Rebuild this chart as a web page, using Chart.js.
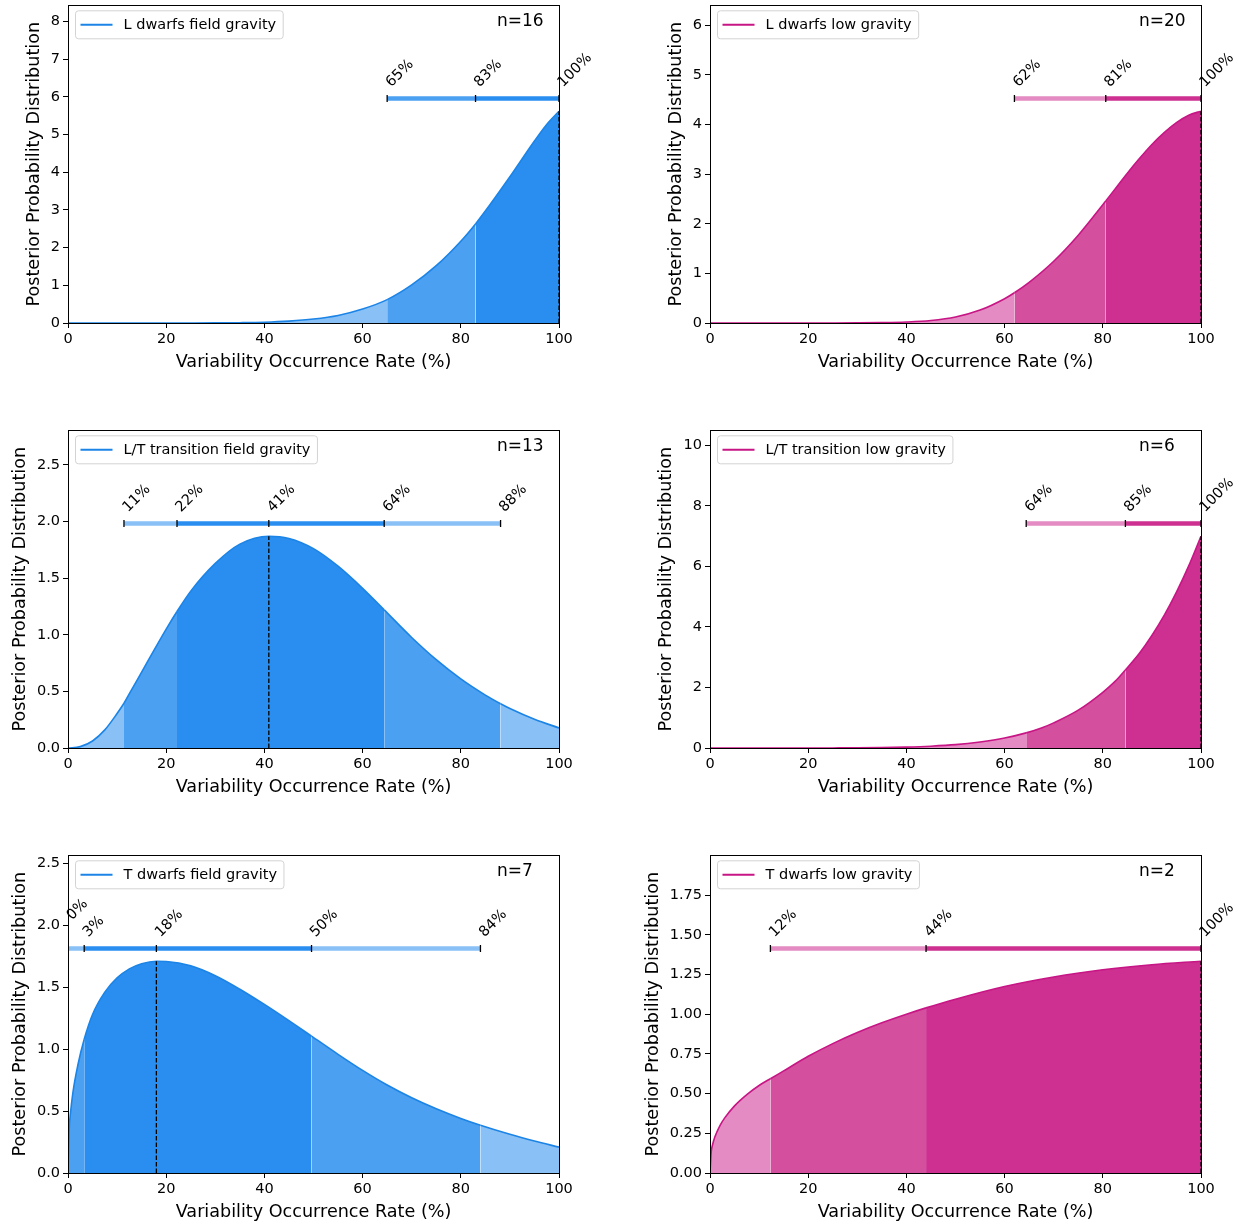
<!DOCTYPE html>
<html>
<head>
<meta charset="utf-8">
<script src="https://cdn.jsdelivr.net/npm/chart.js@4.4.0/dist/chart.umd.min.js"></script>
<style>
  body { margin: 0; background: #fff; width: 1245px; height: 1226px; overflow: hidden; position: relative; }
  canvas { position: absolute; }
</style>
</head>
<body>
<canvas id="c0" width="600" height="376" style="left:0px;top:0px"></canvas>
<canvas id="c1" width="600" height="376" style="left:642px;top:0px"></canvas>
<canvas id="c2" width="600" height="376" style="left:0px;top:425px"></canvas>
<canvas id="c3" width="600" height="376" style="left:642px;top:425px"></canvas>
<canvas id="c4" width="600" height="376" style="left:0px;top:850px"></canvas>
<canvas id="c5" width="600" height="376" style="left:642px;top:850px"></canvas>
<script>
// ---- data ----
// L dwarfs, field gravity
const lFieldX = [0, 10, 20, 25, 30, 35, 40, 45, 50, 55, 60, 65, 70, 75, 80, 83, 85, 90, 95, 97.5, 100];
const lFieldY = [0, 0, 0, 0.001, 0.003, 0.008, 0.02, 0.05, 0.105, 0.2, 0.37, 0.62, 1.01, 1.52, 2.17, 2.63, 2.97, 3.88, 4.83, 5.27, 5.62];
const lFieldCI = [65, 83, 100, 100];          // lo95, lo68, hi68, hi95
const lFieldMode = 100;
const lFieldMarks = [65, 83, 100];
const lFieldMarkLabels = ["65%", "83%", "100%"];
const lFieldYTicks = [0, 1, 2, 3, 4, 5, 6, 7, 8];

// L dwarfs, low gravity
const lLowX = [0, 10, 20, 25, 30, 35, 40, 45, 50, 55, 60, 62, 65, 70, 75, 80.6, 85, 87.5, 90, 92.5, 95, 97.5, 100];
const lLowY = [0, 0, 0, 0.001, 0.003, 0.008, 0.02, 0.05, 0.12, 0.26, 0.49, 0.61, 0.82, 1.245, 1.77, 2.46, 3.02, 3.32, 3.6, 3.84, 4.04, 4.19, 4.27];
const lLowCI = [62, 80.6, 100, 100];
const lLowMode = 100;
const lLowMarks = [62, 80.6, 100];
const lLowMarkLabels = ["62%", "81%", "100%"];
const lLowYTicks = [0, 1, 2, 3, 4, 5, 6];

// L/T transition, field gravity
const ltFieldX = [0, 2.5, 5, 7.5, 10, 11.4, 12.5, 15, 17.5, 20, 22.2, 25, 30, 35, 40.9, 45, 50, 55, 60, 64.4, 70, 75, 80, 85, 88.1, 90, 95, 100];
const ltFieldY = [0, 0.012, 0.062, 0.16, 0.305, 0.395, 0.48, 0.67, 0.862, 1.05, 1.205, 1.385, 1.63, 1.8, 1.87, 1.85, 1.76, 1.605, 1.41, 1.22, 0.976, 0.78, 0.61, 0.467, 0.391, 0.349, 0.254, 0.177];
const ltFieldCI = [11.4, 22.2, 64.4, 88.1];
const ltFieldMode = 40.9;
const ltFieldMarks = [11.4, 22.2, 40.9, 64.4, 88.1];
const ltFieldMarkLabels = ["11%", "22%", "41%", "64%", "88%"];
const ltFieldYTicks = [0, 0.5, 1.0, 1.5, 2.0, 2.5];

// L/T transition, low gravity
const ltLowX = [0, 10, 20, 25, 30, 35, 40, 45, 50, 55, 60, 64.4, 67.5, 70, 75, 80, 82.5, 84.6, 87.5, 90, 92.5, 95, 97.5, 100];
const ltLowY = [0, 0, 0, 0.002, 0.005, 0.013, 0.03, 0.06, 0.11, 0.2, 0.33, 0.5, 0.66, 0.83, 1.25, 1.84, 2.2, 2.58, 3.14, 3.72, 4.38, 5.15, 6.02, 7.0];
const ltLowCI = [64.4, 84.6, 100, 100];
const ltLowMode = 100;
const ltLowMarks = [64.4, 84.6, 100];
const ltLowMarkLabels = ["64%", "85%", "100%"];
const ltLowYTicks = [0, 2, 4, 6, 8, 10];

// T dwarfs, field gravity
const tFieldX = [0, 0.25, 0.5, 1, 2, 3.3, 5, 7.5, 10, 12.5, 15, 18, 20, 25, 30, 35, 40, 45, 49.6, 55, 60, 65, 70, 75, 80, 84, 90, 95, 100];
const tFieldY = [0, 0.36, 0.48, 0.65, 0.87, 1.08, 1.28, 1.46, 1.575, 1.648, 1.69, 1.71, 1.708, 1.673, 1.593, 1.484, 1.361, 1.23, 1.105, 0.958, 0.828, 0.71, 0.607, 0.518, 0.44, 0.385, 0.312, 0.258, 0.209];
const tFieldCI = [0, 3.3, 49.6, 84];
const tFieldMode = 18;
const tFieldMarks = [0, 3.3, 18, 49.6, 84];
const tFieldMarkLabels = ["0%", "3%", "18%", "50%", "84%"];
const tFieldYTicks = [0, 0.5, 1.0, 1.5, 2.0, 2.5];

// T dwarfs, low gravity
const tLowX = [0, 0.25, 0.5, 1, 2, 3, 5, 7.5, 10, 12.3, 15, 20, 25, 30, 35, 40, 44, 50, 60, 70, 80, 90, 100];
const tLowY = [0, 0.134, 0.175, 0.228, 0.297, 0.347, 0.423, 0.494, 0.551, 0.594, 0.643, 0.735, 0.815, 0.885, 0.946, 1.0, 1.04, 1.095, 1.175, 1.235, 1.28, 1.312, 1.334];
const tLowCI = [12.3, 44, 100, 100];
const tLowMode = 100;
const tLowMarks = [12.3, 44, 100];
const tLowMarkLabels = ["12%", "44%", "100%"];
const tLowYTicks = [0, 0.25, 0.5, 0.75, 1.0, 1.25, 1.5, 1.75];

// ---- styling ----
const FONT = "'DejaVu Sans', 'Noto Sans', sans-serif";
Chart.defaults.font.family = FONT;
Chart.defaults.color = "#000";

const blue = { line: "#1b84e6", dark: "#2a8ef0", mid: "#4ba0f1", light: "#89c0f6" };
const pink = { line: "#c71585", dark: "#cd3090", mid: "#d4509f", light: "#e38bc2" };

const panels = [
  { id: "c0", x: lFieldX, y: lFieldY, ci: lFieldCI, mode: lFieldMode, marks: lFieldMarks, markLabels: lFieldMarkLabels,
    yTicks: lFieldYTicks, digits: 0, name: "L dwarfs field gravity", n: "n=16", col: blue, barLight: blue.mid, titlePad: 23.5 },
  { id: "c1", x: lLowX, y: lLowY, ci: lLowCI, mode: lLowMode, marks: lLowMarks, markLabels: lLowMarkLabels,
    yTicks: lLowYTicks, digits: 0, name: "L dwarfs low gravity", n: "n=20", col: pink, barLight: pink.light, titlePad: 23.5 },
  { id: "c2", x: ltFieldX, y: ltFieldY, ci: ltFieldCI, mode: ltFieldMode, marks: ltFieldMarks, markLabels: ltFieldMarkLabels,
    yTicks: ltFieldYTicks, digits: 1, name: "L/T transition field gravity", n: "n=13", col: blue, barLight: blue.light, titlePad: 9.5 },
  { id: "c3", x: ltLowX, y: ltLowY, ci: ltLowCI, mode: ltLowMode, marks: ltLowMarks, markLabels: ltLowMarkLabels,
    yTicks: ltLowYTicks, digits: 0, name: "L/T transition low gravity", n: "n=6", col: pink, barLight: pink.light, titlePad: 14 },
  { id: "c4", x: tFieldX, y: tFieldY, ci: tFieldCI, mode: tFieldMode, marks: tFieldMarks, markLabels: tFieldMarkLabels,
    yTicks: tFieldYTicks, digits: 1, name: "T dwarfs field gravity", n: "n=7", col: blue, barLight: blue.light, titlePad: 9.5 },
  { id: "c5", x: tLowX, y: tLowY, ci: tLowCI, mode: tLowMode, marks: tLowMarks, markLabels: tLowMarkLabels,
    yTicks: tLowYTicks, digits: 2, name: "T dwarfs low gravity", n: "n=2", col: pink, barLight: pink.light, titlePad: 0.5 },
];

// extra labels, frame and legend, drawn on top
function makeOverlay(p, barY) {
  return {
    id: "overlay",
    afterDraw(chart) {
      const { ctx, chartArea: a, scales } = chart;
      const xs = scales.x, ys = scales.y;
      ctx.save();
      // frame
      ctx.strokeStyle = "#000";
      ctx.lineWidth = 1;
      ctx.strokeRect(Math.round(a.left) + 0.5, Math.round(a.top) + 0.5, Math.round(a.width), Math.round(a.height));

      // percent labels above the interval bar
      ctx.fillStyle = "#000";
      ctx.font = "14.5px " + FONT;
      ctx.textAlign = "left";
      ctx.textBaseline = "alphabetic";
      const py = ys.getPixelForValue(barY);
      p.marks.forEach((m, i) => {
        const px = xs.getPixelForValue(m);
        const next = p.marks[i + 1];
        const lift = next !== undefined && next - m < 6 ? 17 : 0;
        ctx.save();
        ctx.translate(px + 4, py - 11 - lift);
        ctx.rotate(-Math.PI / 4);
        ctx.fillText(p.markLabels[i], 0, 0);
        ctx.restore();
      });

      // sample size
      ctx.font = "17px " + FONT;
      ctx.textBaseline = "middle";
      ctx.fillText(p.n, a.left + 429, a.top + 16);

      // legend box
      ctx.font = "14.5px " + FONT;
      const tw = ctx.measureText(p.name).width;
      const bx = a.left + 7.5, by = a.top + 5.5, bw = tw + 55, bh = 28;
      ctx.beginPath();
      ctx.roundRect(bx, by, bw, bh, 3);
      ctx.fillStyle = "rgba(255,255,255,0.85)";
      ctx.fill();
      ctx.strokeStyle = "#d3d3d3";
      ctx.stroke();
      ctx.beginPath();
      ctx.moveTo(bx + 5, by + bh / 2);
      ctx.lineTo(bx + 37, by + bh / 2);
      ctx.strokeStyle = p.col.line;
      ctx.lineWidth = 2;
      ctx.stroke();
      ctx.fillStyle = "#000";
      ctx.fillText(p.name, bx + 48, by + bh / 2 + 0.5);
      ctx.restore();
    }
  };
}

function shadeFor(p, x) {
  const [lo95, lo68, hi68, hi95] = p.ci;
  if (x < lo95) return p.col.light;
  if (x < lo68) return p.col.mid;
  if (x < hi68) return p.col.dark;
  if (x < hi95) return p.col.mid;
  return p.col.light;
}

panels.forEach((p) => {
  const pts = p.x.map((x, i) => ({ x, y: p.y[i] }));
  const peak = Math.max(...p.y);
  const yMax = peak * 1.5;
  const barY = peak * 1.06;
  const modeY = p.y[p.x.indexOf(p.mode)];
  const [lo95, lo68, hi68, hi95] = p.ci;

  const bars = [[lo95, lo68, p.barLight], [lo68, hi68, p.col.dark], [hi68, hi95, p.barLight]]
    .filter((b) => b[1] > b[0])
    .map((b) => ({
      data: [{ x: b[0], y: barY }, { x: b[1], y: barY }],
      borderColor: b[2], borderWidth: 4.3, borderCapStyle: "butt",
      pointRadius: 0, fill: false, order: 3,
    }));

  const datasets = [
    {
      data: [{ x: p.mode, y: 0 }, { x: p.mode, y: modeY }],
      borderColor: "#000", borderWidth: 1.3, borderDash: [4.5, 2],
      pointRadius: 0, fill: false, order: 1,
    },
    {
      data: p.marks.map((m) => ({ x: m, y: barY })),
      showLine: false, pointStyle: "line", rotation: 90, pointRadius: 3.5,
      pointBorderColor: "#000", pointBorderWidth: 1.3, order: 2,
    },
    ...bars,
    {
      data: pts,
      borderColor: p.col.line, borderWidth: 1.6,
      cubicInterpolationMode: "monotone",
      pointRadius: 0,
      fill: "origin",
      backgroundColor: p.col.dark,
      segment: { backgroundColor: (c) => shadeFor(p, (c.p0.parsed.x + c.p1.parsed.x) / 2) },
      order: 5,
    },
  ];

  new Chart(document.getElementById(p.id), {
    type: "line",
    data: { datasets },
    options: {
      responsive: false,
      animation: false,
      events: [],
      layout: { padding: { top: 1, right: 41, left: 0, bottom: 0 } },
      plugins: { legend: { display: false }, tooltip: { enabled: false } },
      scales: {
        x: {
          type: "linear", min: 0, max: 100,
          afterBuildTicks: (s) => { s.ticks = [0, 20, 40, 60, 80, 100].map((v) => ({ value: v })); },
          ticks: { font: { size: 14.5 }, color: "#000", padding: 3, maxRotation: 0, autoSkip: false },
          grid: { drawOnChartArea: false, drawTicks: true, tickLength: 5, tickColor: "#000", tickWidth: 1 },
          border: { display: false },
          title: { display: true, text: "Variability Occurrence Rate (%)", font: { size: 17.6 }, color: "#000", padding: { top: 0, bottom: 3 } },
          afterFit: (s) => { s.height = 53; s.paddingLeft = 0; s.paddingRight = 0; },
        },
        y: {
          type: "linear", min: 0, max: yMax,
          afterBuildTicks: (s) => { s.ticks = p.yTicks.map((v) => ({ value: v })); },
          ticks: { font: { size: 14.5 }, color: "#000", padding: 3, autoSkip: false,
            callback: (v) => Number(v).toFixed(p.digits) },
          grid: { drawOnChartArea: false, drawTicks: true, tickLength: 5, tickColor: "#000", tickWidth: 1 },
          border: { display: false },
          title: { display: true, text: "Posterior Probability Distribution", font: { size: 17.6 }, color: "#000", padding: { top: p.titlePad, bottom: 0 } },
          afterFit: (s) => { s.width = 68; s.paddingTop = 0; s.paddingBottom = 0; },
        },
      },
    },
    plugins: [makeOverlay(p, barY)],
  });
});
</script>
</body>
</html>
